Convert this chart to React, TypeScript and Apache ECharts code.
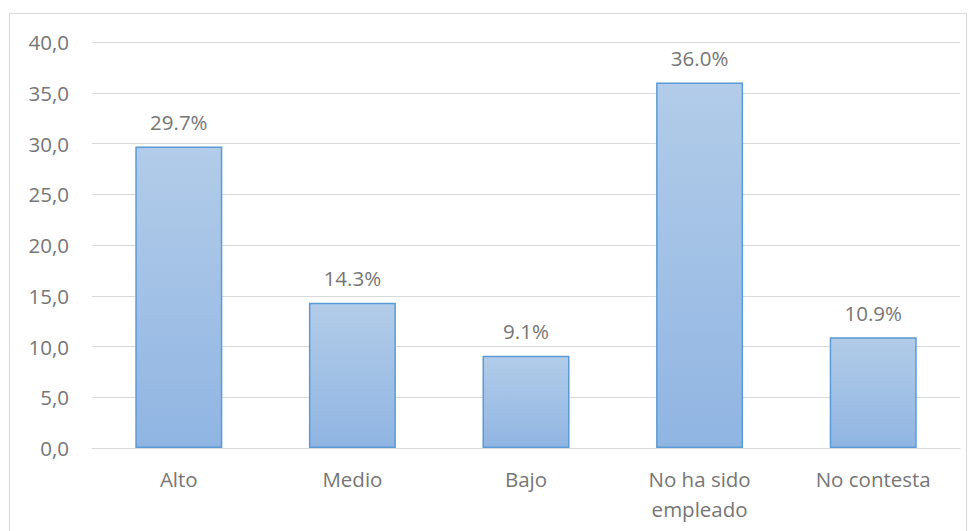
import React, { useEffect, useRef } from "react";
import * as echarts from "echarts";

const categories = ["Alto", "Medio", "Bajo", "No ha sido\nempleado", "No contesta"];
const values = [29.7, 14.3, 9.1, 36.0, 10.9];

export default function App() {
  const ref = useRef<HTMLDivElement>(null);
  useEffect(() => {
    if (!ref.current) return;
    const chart = echarts.init(ref.current, null, { renderer: "svg" });
    const font = "'Open Sans', 'Noto Sans', sans-serif";
    const textColor = "#767676";
    chart.setOption({
      animation: false,
      backgroundColor: "#ffffff",
      graphic: [
        {
          type: "rect",
          shape: { x: 9.5, y: 13.5, width: 957, height: 540 },
          style: { fill: "none", stroke: "#d9d9d9", lineWidth: 1 },
          silent: true,
        },
      ],
      grid: { left: 92, right: 15, top: 42, bottom: 83 },
      xAxis: {
        type: "category",
        data: categories,
        axisLine: { show: true, lineStyle: { color: "#d9d9d9", width: 1 } },
        axisTick: { show: false },
        axisLabel: {
          color: textColor,
          fontSize: 20.5,
          fontFamily: font,
          margin: 16,
          lineHeight: 30,
        },
      },
      yAxis: {
        type: "value",
        min: 0,
        max: 40,
        interval: 5,
        axisLine: { show: false },
        axisTick: { show: false },
        splitLine: { lineStyle: { color: "#d9d9d9", width: 1 } },
        axisLabel: {
          color: textColor,
          fontSize: 20.5,
          fontFamily: font,
          margin: 23,
          formatter: (v: number) => v.toFixed(1).replace(".", ","),
        },
      },
      series: [
        {
          type: "bar",
          data: values,
          barWidth: 87,
          itemStyle: {
            color: new echarts.graphic.LinearGradient(0, 0, 0, 1, [
              { offset: 0, color: "#b2cce9" },
              { offset: 1, color: "#90b5e2" },
            ]),
            borderColor: "#5b9bd5",
            borderWidth: 1.5,
          },
          label: {
            show: true,
            position: "top",
            distance: 14,
            color: textColor,
            fontSize: 20.5,
            fontFamily: font,
            formatter: (p: any) => p.value.toFixed(1) + "%",
          },
        },
      ],
    });
    return () => chart.dispose();
  }, []);
  return (
    <div
      ref={ref}
      style={{ position: "fixed", left: 0, top: 0, width: 975, height: 531 }}
    />
  );
}
